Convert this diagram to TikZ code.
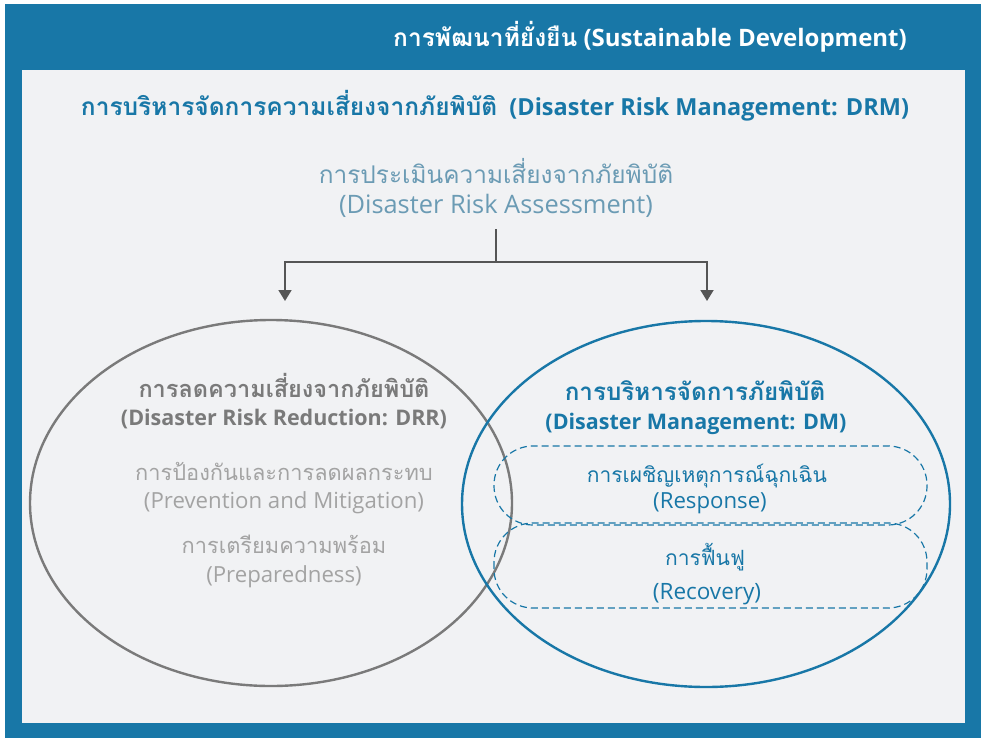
\documentclass[tikz,border=0pt]{standalone}
\usepackage{fontspec}
\setmainfont{Open Sans}
\newfontfamily\thfont[Script=Thai]{Loma}
\usetikzlibrary{arrows.meta,shapes.geometric}
\definecolor{frameblue}{HTML}{1877A7}
\definecolor{panel}{HTML}{F1F2F4}
\definecolor{dgray}{HTML}{7A7A7A}
\definecolor{lgray}{HTML}{A3A3A3}
\definecolor{assesscol}{HTML}{6B9BB4}
\definecolor{arrowgray}{HTML}{555555}
\newcommand{\fs}[1]{\fontsize{#1}{#1}\selectfont}
\tikzset{
  txt/.style={align=center, inner sep=0pt, anchor=base},
  conn/.style={draw=arrowgray, line width=1.8pt},
  tip/.style={-{Triangle[length=11pt,width=13pt]}},
  dashbox/.style={draw=frameblue, line width=1.2pt, dash pattern=on 7pt off 4pt, rounded corners=39pt},
}
\begin{document}
\begin{tikzpicture}[x=1pt,y=-1pt]
\useasboundingbox (0,0) rectangle (981,738);
\fill[white] (0,0) rectangle (981,738);
\fill[frameblue] (5,4) rectangle (981,738);
\fill[panel] (22,70) rectangle (965,723);

% headings
\node[txt, text=white, font=\fs{24}\bfseries] (title) at (650,47) {{\thfont\fs{24.5}\bfseries การพัฒนาที่ยั่งยืน} (Sustainable Development)};
\node[txt, text=frameblue, font=\fs{23.5}\bfseries] (drm) at (495,116) {{\thfont\fs{24.5}\bfseries การบริหารจัดการความเสี่ยงจากภัยพิบัติ}\ \ (Disaster Risk Management: DRM)};

\node[txt, text=assesscol, font=\thfont\fs{24.4}] (assess1) at (496,183) {การประเมินความเสี่ยงจากภัยพิบัติ};
\node[txt, text=assesscol, font=\fs{25.4}] (assess2) at (496,213) {(Disaster Risk Assessment)};

% connectors
\coordinate (top) at (496,229);
\coordinate (split) at (496,262);
\coordinate (lcorner) at (285,262);
\coordinate (rcorner) at (707,262);
\coordinate (ltip) at (285,301);
\coordinate (rtip) at (707,301);
\draw[conn] (top) -- (split);
\draw[conn, tip] (split) -- (lcorner) -- (ltip);
\draw[conn, tip] (split) -- (rcorner) -- (rtip);

% ellipses
\node[draw=dgray, line width=2.4pt, ellipse, minimum width=482pt, minimum height=366pt, inner sep=0pt] (drr) at (271,503) {};
\node[draw=frameblue, line width=2.4pt, ellipse, minimum width=488pt, minimum height=366pt, inner sep=0pt] (dm) at (706,504) {};

\draw[dashbox] (494,446) rectangle (927,525);
\draw[dashbox] (494,523) rectangle (927,608);

% left texts
\node[txt, text=dgray, font=\thfont\fs{23.5}\bfseries] (drr1) at (284,397) {การลดความเสี่ยงจากภัยพิบัติ};
\node[txt, text=dgray, font=\fs{21.5}\bfseries] (drr2) at (284,425) {(Disaster Risk Reduction: DRR)};
\node[txt, text=lgray, font=\thfont\fs{21.8}] (prev1) at (284,480) {การป้องกันและการลดผลกระทบ};
\node[txt, text=lgray, font=\fs{22.2}] (prev2) at (284,508) {(Prevention and Mitigation)};
\node[txt, text=lgray, font=\thfont\fs{21.8}] (prep1) at (284,553) {การเตรียมความพร้อม};
\node[txt, text=lgray, font=\fs{22.2}] (prep2) at (284,582) {(Preparedness)};

% right texts
\node[txt, text=frameblue, font=\thfont\fs{24.2}\bfseries] (dm1) at (695,400) {การบริหารจัดการภัยพิบัติ};
\node[txt, text=frameblue, font=\fs{21.5}\bfseries] (dm2) at (696,429) {(Disaster Management: DM)};
\node[txt, text=frameblue, font=\thfont\fs{21}] (resp1) at (707,482) {การเผชิญเหตุการณ์ฉุกเฉิน};
\node[txt, text=frameblue, font=\fs{22.2}] (resp2) at (710,508) {(Response)};
\node[txt, text=frameblue, font=\thfont\fs{21}] (recov1) at (705,565) {การฟื้นฟู};
\node[txt, text=frameblue, font=\fs{22.5}] (recov2) at (707,599) {(Recovery)};
\end{tikzpicture}
\end{document}
